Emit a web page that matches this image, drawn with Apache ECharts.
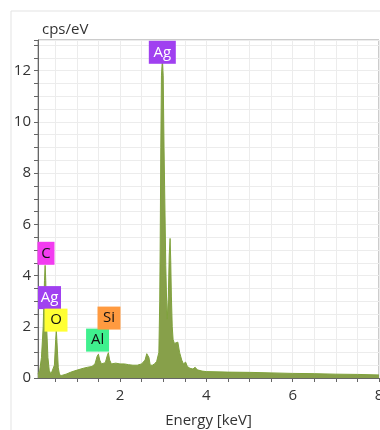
<!DOCTYPE html>
<html>
<head>
<meta charset="utf-8">
<script src="https://cdn.jsdelivr.net/npm/echarts@6/dist/echarts.min.js"></script>
<style>
html, body { margin: 0; padding: 0; background: #fff; }
#echart1 { width: 380px; height: 430px; }
</style>
</head>
<body>
<div id="echart1"></div>
<script>
// spectrum (keV, cps/eV)
var energy = [0.10, 0.14, 0.18, 0.22, 0.25, 0.265, 0.28, 0.30, 0.33, 0.36, 0.40, 0.44, 0.48, 0.51, 0.525, 0.54, 0.57, 0.60,
    0.65, 0.75, 0.85, 0.95, 1.05, 1.15, 1.25, 1.35, 1.42, 1.47, 1.50, 1.53, 1.57, 1.61, 1.66, 1.70, 1.73, 1.76, 1.80,
    1.90, 2.00, 2.10, 2.20, 2.30, 2.40, 2.50, 2.58, 2.62, 2.64, 2.67, 2.70, 2.75, 2.80, 2.85, 2.90, 2.92, 2.93, 2.945,
    2.96, 2.98, 3.00, 3.02, 3.06, 3.08, 3.095, 3.12, 3.14, 3.16, 3.175, 3.19, 3.21, 3.23, 3.26, 3.30, 3.34, 3.38, 3.43,
    3.47, 3.52, 3.56, 3.62, 3.69, 3.74, 3.79, 3.90, 4.00, 4.50, 5.00, 5.50, 6.00, 6.50, 7.00, 7.50, 8.00];
var counts = [0.15, 0.3, 0.8, 2.0, 3.8, 4.4, 3.8, 2.0, 0.8, 0.3, 0.15, 0.15, 0.5, 1.5, 1.85, 1.4, 0.4, 0.12,
    0.1, 0.15, 0.22, 0.28, 0.33, 0.38, 0.42, 0.45, 0.55, 0.85, 0.93, 0.7, 0.55, 0.58, 0.6, 0.85, 0.99, 0.7, 0.55,
    0.58, 0.55, 0.55, 0.52, 0.5, 0.5, 0.55, 0.7, 0.95, 1.0, 0.8, 0.5, 0.5, 0.55, 0.65, 1.0, 3.0, 5.0, 9.0,
    11.8, 12.4, 11.8, 9.0, 4.4, 3.0, 2.3, 3.2, 4.8, 5.45, 4.6, 3.2, 2.0, 1.5, 1.35, 1.3, 1.4, 1.0, 0.7,
    0.55, 0.62, 0.45, 0.38, 0.35, 0.42, 0.32, 0.27, 0.25, 0.23, 0.22, 0.2, 0.18, 0.17, 0.15, 0.14, 0.12];

// element tags
var tagNames = ['Ag', 'C', 'Ag', 'O', 'Al', 'Si'];
var tagX = [2.98, 0.285, 0.366, 0.517, 1.48, 1.745];
var tagY = [12.72, 4.87, 3.14, 2.26, 1.48, 2.34];
var tagColors = ['#a040f0', '#f23cf0', '#a040f0', '#ffff33', '#3ff08e', '#ff9a40'];
var tagText = ['#fff', '#111', '#fff', '#111', '#111', '#111'];

var xTicks = [0.5, 1, 1.5, 2, 2.5, 3, 3.5, 4, 4.5, 5, 5.5, 6, 6.5, 7, 7.5, 8];
var xLabels = [2, 4, 6, 8];

(function () {
    var myChart = echarts.init(document.getElementById('echart1'));

    var seriesData = [];
    for (var i = 0; i < energy.length; i++) {
        seriesData.push([energy[i], counts[i]]);
    }
    var tags = [];
    for (var j = 0; j < tagNames.length; j++) {
        tags.push({
            name: tagNames[j],
            coord: [tagX[j], tagY[j]],
            symbolSize: [tagNames[j] == 'C' ? 17 : (j == 0 ? 27 : 23), 23],
            itemStyle: { color: tagColors[j] },
            label: { color: tagText[j] }
        });
    }

    var option = {
        animation: false,
        textStyle: { fontFamily: 'Open Sans' },
        graphic: [{
            type: 'rect',
            shape: { x: 11, y: 11, width: 400, height: 440 },
            style: { fill: 'none', stroke: '#e3e3e3', lineWidth: 1 },
            z: -1
        }],
        grid: {
            left: 38,
            right: 1,
            top: 40,
            bottom: 52,
            outerBoundsMode: 'none',
            containLabel: false,
            show: true,
            borderColor: '#999',
            borderWidth: 1
        },
        xAxis: {
            type: 'value',
            min: 0.1,
            max: 8,
            name: 'Energy [keV]',
            nameLocation: 'middle',
            nameGap: 35,
            nameTextStyle: { color: '#333', fontSize: 15 },
            axisLine: { lineStyle: { color: '#666' } },
            axisTick: { show: true, length: 4, customValues: xTicks, lineStyle: { color: '#666' } },
            axisLabel: { customValues: xLabels, color: '#333', fontSize: 15, margin: 10 },
            splitLine: { show: true, customValues: xTicks, lineStyle: { color: '#ececec' } }
        },
        yAxis: {
            type: 'value',
            min: 0,
            max: 13.2,
            interval: 0.5,
            name: 'cps/eV',
            nameLocation: 'end',
            nameGap: 3,
            nameTextStyle: { color: '#333', fontSize: 15, align: 'left', padding: [0, 0, 0, 4] },
            axisLine: { show: true, lineStyle: { color: '#666' } },
            axisTick: { show: true, length: 4, lineStyle: { color: '#666' } },
            axisLabel: {
                color: '#333',
                fontSize: 15,
                margin: 7,
                formatter: function (v) {
                    return (Math.abs(v % 2) < 1e-6 && v <= 12) ? String(v) : '';
                }
            },
            splitLine: { show: true, lineStyle: { color: '#ececec' } }
        },
        series: [{
            type: 'line',
            data: seriesData,
            symbol: 'none',
            lineStyle: { width: 1, color: '#7fa23c' },
            areaStyle: { color: '#87a04a', opacity: 1 },
            markPoint: {
                symbol: 'rect',
                label: {
                    show: true,
                    fontSize: 15,
                    formatter: function (p) { return p.name; }
                },
                data: tags
            }
        }]
    };

    myChart.setOption(option);
    window.addEventListener("resize", function () {
        myChart.resize();
    });
})();
</script>
</body>
</html>
